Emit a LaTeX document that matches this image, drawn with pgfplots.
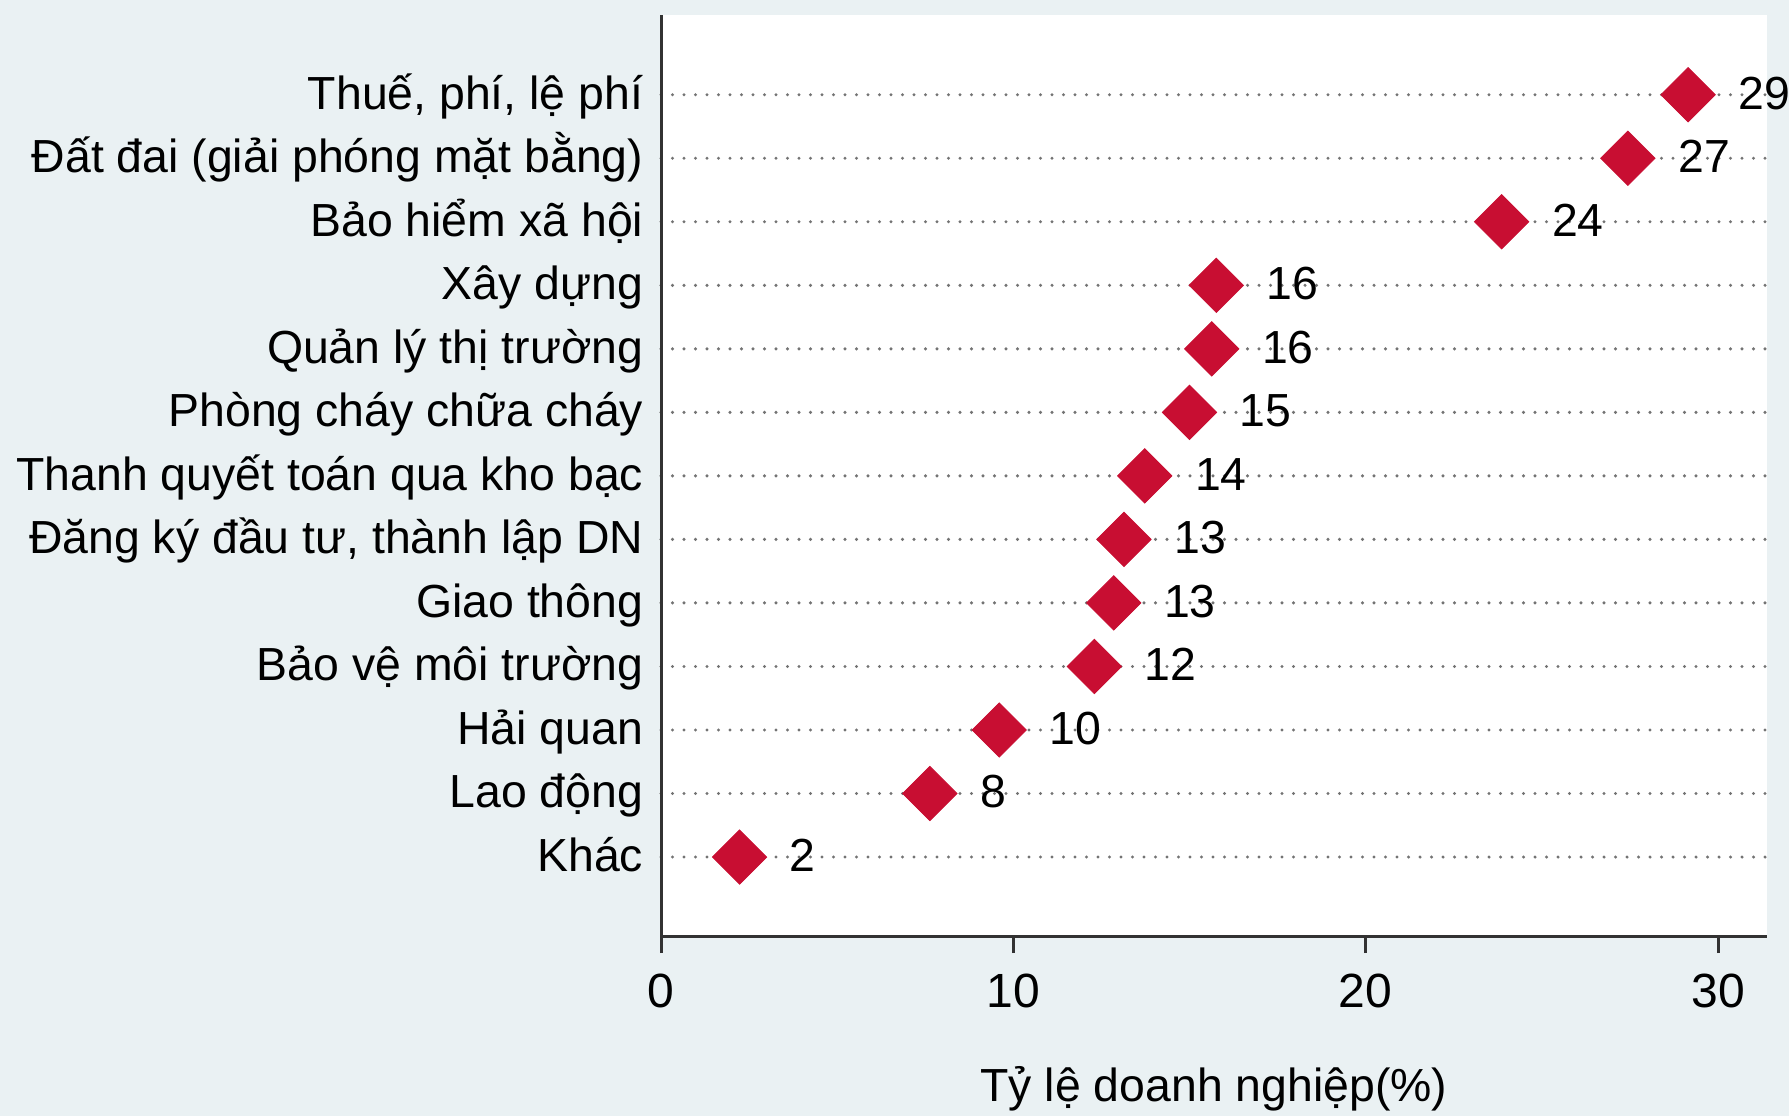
\documentclass[border=0pt]{standalone}
\usepackage{fontspec}
\setmainfont{Liberation Sans}
\usepackage{pgfplots}
\pgfplotsset{compat=1.18}
\definecolor{bg}{RGB}{234,241,243}
\definecolor{mk}{RGB}{200,14,50}
\definecolor{ax}{RGB}{50,50,50}
\definecolor{gr}{RGB}{115,115,115}
\begin{document}
\begin{tikzpicture}
\useasboundingbox (0,0) rectangle (447.25pt,279pt);
\fill[bg] (0,0) rectangle (447.25pt,279pt);
\begin{axis}[
  at={(165.25pt,45pt)}, anchor=south west,
  scale only axis, width=276.5pt, height=230.25pt,
  xmin=0, xmax=31.39, ymin=-0.243, ymax=14.255,
  axis lines=left, axis line style={-, ax, line width=0.75pt},
  axis background/.style={fill=white},
  xtick={0,10,20,30},
  ytick={1,...,13},
  yticklabels={Khác, Lao động, Hải quan, Bảo vệ môi trường, Giao thông, {Đăng ký đầu tư, thành lập DN}, Thanh quyết toán qua kho bạc, Phòng cháy chữa cháy, Quản lý thị trường, Xây dựng, Bảo hiểm xã hội, Đất đai (giải phóng mặt bằng), {Thuế, phí, lệ phí}},
  tick align=outside,
  major tick length=4.25pt,
  x tick style={ax, line width=0.75pt},
  y tick style={draw=none},
  ymajorgrids,
  major grid style={gr, line width=0.85pt, line cap=round, dash pattern=on 0pt off 2.875pt},
  /pgf/number format/assume math mode=true,
  xticklabel style={font=\fontsize{12}{14}\selectfont, inner sep=0pt, text height=0.716em, text depth=0pt, yshift=-6.3pt},
  yticklabel style={font=\fontsize{11.6}{14}\selectfont, inner sep=0pt, text height=0.716em, text depth=0pt, anchor=east},
  xlabel={Tỷ lệ doanh nghiệp(\%)},
  xlabel style={at={(axis description cs:0.5,0)}, anchor=center, yshift=-37.75pt, font=\fontsize{11.6}{14}\selectfont, inner sep=0pt, text height=0.716em, text depth=0pt},
  clip=false,
  nodes near coords, point meta=explicit symbolic,
  nodes near coords style={font=\fontsize{11.6}{14}\selectfont, anchor=west, inner sep=0pt, text height=0.716em, text depth=0pt, xshift=12.5pt, text=black},
]
\addplot[only marks, mark=square*, mark size=4.8pt, mark options={rotate=45, fill=mk, draw=mk, line width=0.2pt}] coordinates {
 (29.15,13) [29]
 (27.44,12) [27]
 (23.86,11) [24]
 (15.76,10) [16]
 (15.63,9) [16]
 (15.00,8) [15]
 (13.73,7) [14]
 (13.14,6) [13]
 (12.85,5) [13]
 (12.30,4) [12]
 (9.60,3) [10]
 (7.63,2) [8]
 (2.23,1) [2]
};
\end{axis}
\end{tikzpicture}
\end{document}
